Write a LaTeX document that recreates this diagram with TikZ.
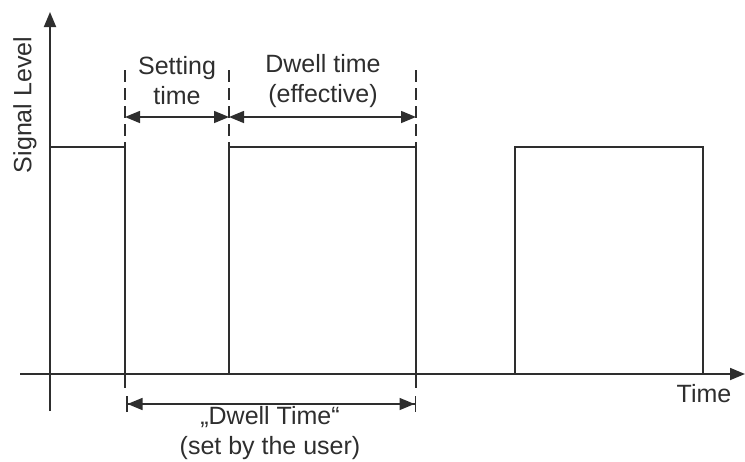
\documentclass[tikz,border=0pt]{standalone}
\usepackage{fontspec}
\setmainfont{Liberation Sans}
\usetikzlibrary{arrows.meta}
\definecolor{ink}{HTML}{2E2E2E}
\tikzset{
  line/.style={draw=ink, line width=1.8pt},
  thin line/.style={draw=ink, line width=1.5pt},
  guide/.style={draw=ink, line width=1.5pt, dash pattern=on 12pt off 6pt},
  tip/.style={-{Triangle[length=15pt,width=12pt]}},
  both tips/.style={{Triangle[length=15pt,width=12pt]}-{Triangle[length=15pt,width=12pt]}},
  bar tips/.style={{Bar[width=16pt]Triangle[length=15pt,width=12pt]}-{Triangle[length=15pt,width=12pt]Bar[width=16pt]}},
  label/.style={text=ink, font=\fontsize{25}{30}\selectfont, align=center, inner sep=0pt}
}
\begin{document}
\begin{tikzpicture}[x=1pt,y=-1pt]
\useasboundingbox (0,0) rectangle (745,461);
% axes
\coordinate (yb) at (50,411);
\coordinate (yt) at (50,12);
\coordinate (xl) at (20,374);
\coordinate (xr) at (745,374);
\draw[line, tip] (yb) -- (yt);
\draw[line, tip] (xl) -- (xr);
% signal
\coordinate (h0) at (50,147);
\coordinate (h1) at (125,147);
\coordinate (b1) at (125,388);
\coordinate (h2) at (229,147);
\coordinate (b2) at (229,374);
\coordinate (h3) at (416,147);
\coordinate (b3) at (416,388);
\coordinate (h4) at (515,147);
\coordinate (b4) at (515,374);
\coordinate (h5) at (703,147);
\coordinate (b5) at (703,374);
\draw[thin line] (h0) -- (h1) -- (b1);
\draw[thin line] (b2) -- (h2) -- (h3) -- (b3);
\draw[thin line] (b4) -- (h4) -- (h5) -- (b5);
% dashed guides
\coordinate (d1) at (125,70);
\coordinate (d2) at (229,70);
\coordinate (d3) at (416,70);
\draw[guide] (d1) -- (h1);
\draw[guide] (d2) -- (h2);
\draw[guide] (d3) -- (h3);
% arrows
\coordinate (a1) at (125,117);
\coordinate (a2) at (229,117);
\coordinate (a3) at (416,117);
\draw[thin line, both tips] (a1) -- (a2);
\draw[thin line, both tips] (a2) -- (a3);
\coordinate (u1) at (126,404);
\coordinate (u2) at (416,404);
\draw[thin line, bar tips] (u1) -- (u2);
% labels
\node[label] (setting) at (177,81) {Setting\\time};
\node[label] (dwelleff) at (323,81) {Dwell time\\(effective)};
\node[label] (dwelluser) at (270,433) {„Dwell Time“\\(set by the user)};
\node[label] (time) at (704,394) {Time};
\node[label, rotate=90] (signal) at (25,105) {Signal Level};
\end{tikzpicture}
\end{document}
